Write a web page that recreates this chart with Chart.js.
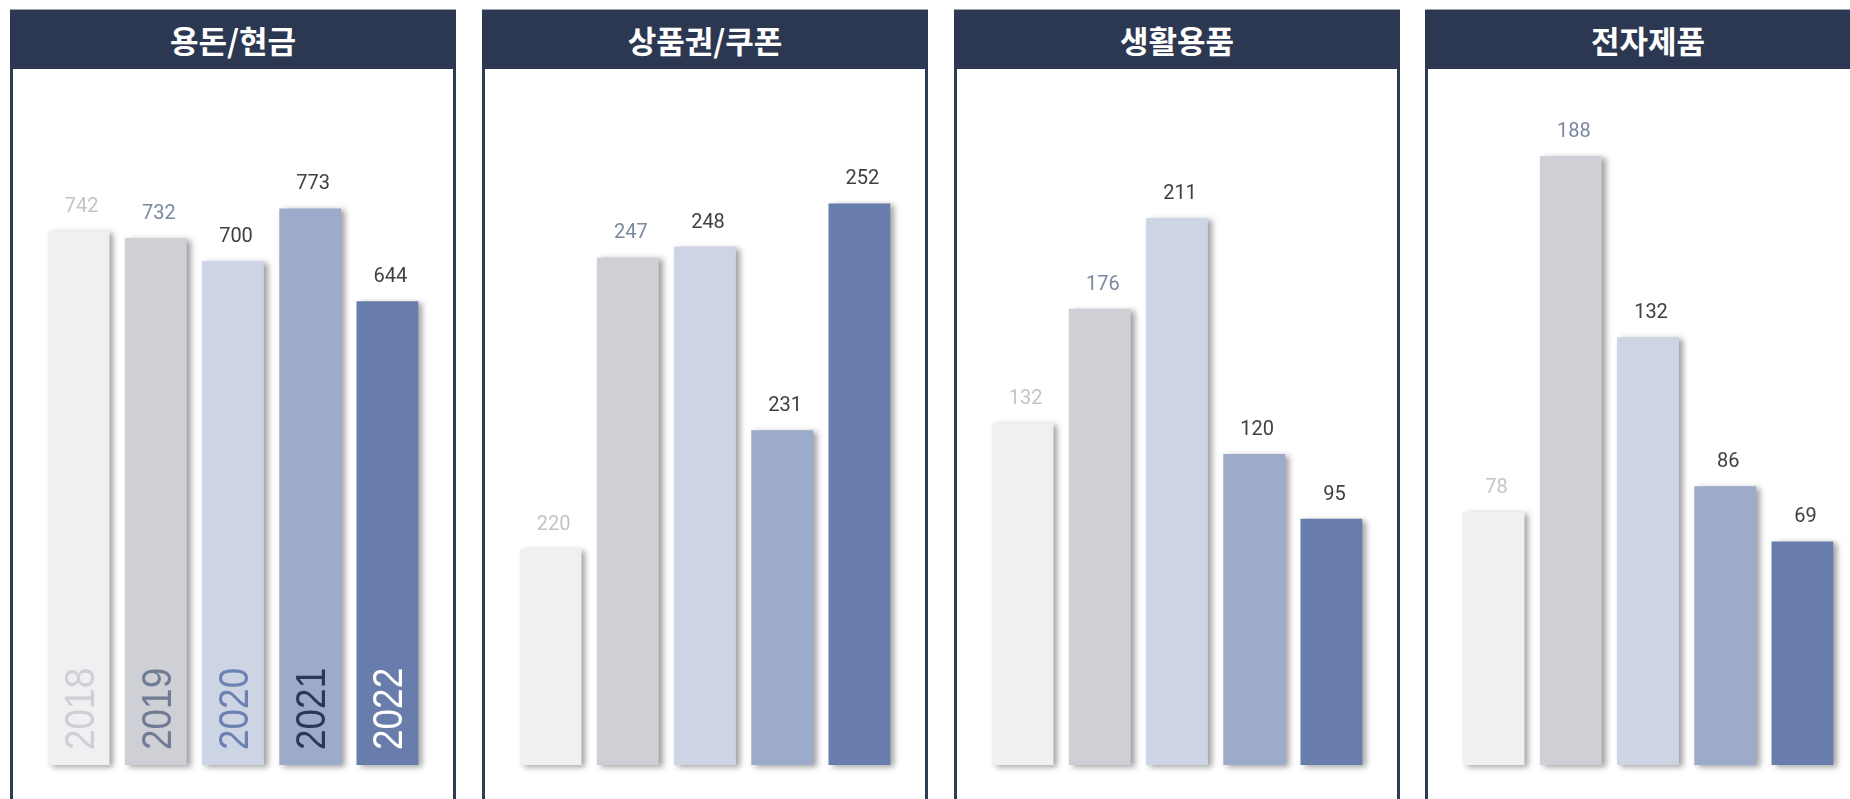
<!DOCTYPE html>
<html>
<head>
<meta charset="utf-8">
<script src="https://cdn.jsdelivr.net/npm/chart.js@4.4.1/dist/chart.umd.min.js"></script>
<style>
  html, body { margin: 0; padding: 0; background: #ffffff; }
  body { width: 1850px; height: 799px; overflow: hidden; position: relative; }
  .panel { position: absolute; top: 9px; width: 446px; height: 830px; }
  .head {
    position: absolute; left: 0; top: 0; width: 446px; height: 60px;
    background: #2c3851; border-top: 1px solid #9ea4ad; box-sizing: border-box;
    color: #ffffff; font-family: "Noto Sans CJK KR", sans-serif; font-weight: 700;
    font-size: 31px; line-height: 58px; text-align: center; padding-top: 1px;
  }
  .bodyframe {
    position: absolute; left: 0; top: 60px; width: 446px; height: 770px;
    border-left: 3px solid #2e3b55; border-right: 3px solid #2e3b55; box-sizing: border-box;
  }
  canvas { position: absolute; top: 0; }
</style>
</head>
<body>
<script>
// ---- data ----
const categories = ['용돈/현금', '상품권/쿠폰', '생활용품', '전자제품'];
const years = ['2018', '2019', '2020', '2021', '2022'];
const cashValues = [742, 732, 700, 773, 644];
const voucherValues = [220, 247, 248, 231, 252];
const livingValues = [132, 176, 211, 120, 95];
const electronicsValues = [78, 188, 132, 86, 69];
const axisMin = [0, 200, 0, 0];
const axisMax = [900, 260, 250, 200];

const seriesList = [cashValues, voucherValues, livingValues, electronicsValues];
const barColors = ['#f0f0f2', '#cfd0d5', '#cdd4e3', '#9cabc9', '#687dab'];
const valueLabelColors = ['#c4c4c6', '#7b88a0', '#404040', '#404040', '#404040'];
const yearLabelColors = ['#cfd0d3', '#6f7c94', '#6a81b1', '#2b3853', '#ffffff'];
const panelLefts = [10, 482, 954, 1425];

const shadowPlugin = {
  id: 'barShadow',
  beforeDatasetDraw(chart) {
    const ctx = chart.ctx;
    ctx.save();
    ctx.shadowColor = 'rgba(0,0,0,0.38)';
    ctx.shadowBlur = 6;
    ctx.shadowOffsetX = 4;
    ctx.shadowOffsetY = 2;
  },
  afterDatasetDraw(chart) {
    chart.ctx.restore();
  }
};

const labelPlugin = {
  id: 'barLabels',
  afterDatasetsDraw(chart, args, opts) {
    const ctx = chart.ctx;
    const meta = chart.getDatasetMeta(0);
    const data = chart.data.datasets[0].data;
    ctx.save();
    ctx.font = '20px Roboto';
    ctx.textAlign = 'center';
    ctx.textBaseline = 'alphabetic';
    meta.data.forEach((bar, i) => {
      ctx.fillStyle = valueLabelColors[i];
      ctx.fillText(String(data[i]), bar.x + 3, bar.y - 19);
    });
    if (opts.showYears) {
      const base = chart.scales.y.getPixelForValue(chart.scales.y.min);
      ctx.font = '42px "Liberation Sans", Arial, sans-serif';
      ctx.textAlign = 'left';
      meta.data.forEach((bar, i) => {
        ctx.save();
        ctx.translate(bar.x + 15, base - 15);
        ctx.rotate(-Math.PI / 2);
        ctx.scale(0.88, 1);
        ctx.fillStyle = yearLabelColors[i];
        ctx.fillText(chart.data.labels[i], 0, 0);
        ctx.restore();
      });
    }
    ctx.restore();
  }
};

categories.forEach((cat, p) => {
  const panel = document.createElement('div');
  panel.className = 'panel';
  panel.style.left = panelLefts[p] + 'px';
  const head = document.createElement('div');
  head.className = 'head';
  head.textContent = cat;
  const frame = document.createElement('div');
  frame.className = 'bodyframe';
  panel.appendChild(head);
  panel.appendChild(frame);
  document.body.appendChild(panel);

  const canvas = document.createElement('canvas');
  canvas.width = 446;
  canvas.height = 799;
  canvas.style.left = panelLefts[p] + 'px';
  canvas.style.width = '446px';
  canvas.style.height = '799px';
  document.body.appendChild(canvas);

  new Chart(canvas, {
    type: 'bar',
    data: {
      labels: years,
      datasets: [{
        data: seriesList[p],
        backgroundColor: barColors,
        borderWidth: 0,
        base: axisMin[p],
        clip: false,
        categoryPercentage: 1.0,
        barPercentage: 0.8
      }]
    },
    options: {
      responsive: false,
      animation: false,
      devicePixelRatio: 1,
      layout: { padding: { top: 117, bottom: 34, left: 30, right: 30 } },
      scales: {
        x: { display: false },
        y: { display: false, min: axisMin[p], max: axisMax[p] }
      },
      plugins: {
        legend: { display: false },
        tooltip: { enabled: false },
        barLabels: { showYears: p === 0 }
      }
    },
    plugins: [shadowPlugin, labelPlugin]
  });
});
</script>
</body>
</html>
